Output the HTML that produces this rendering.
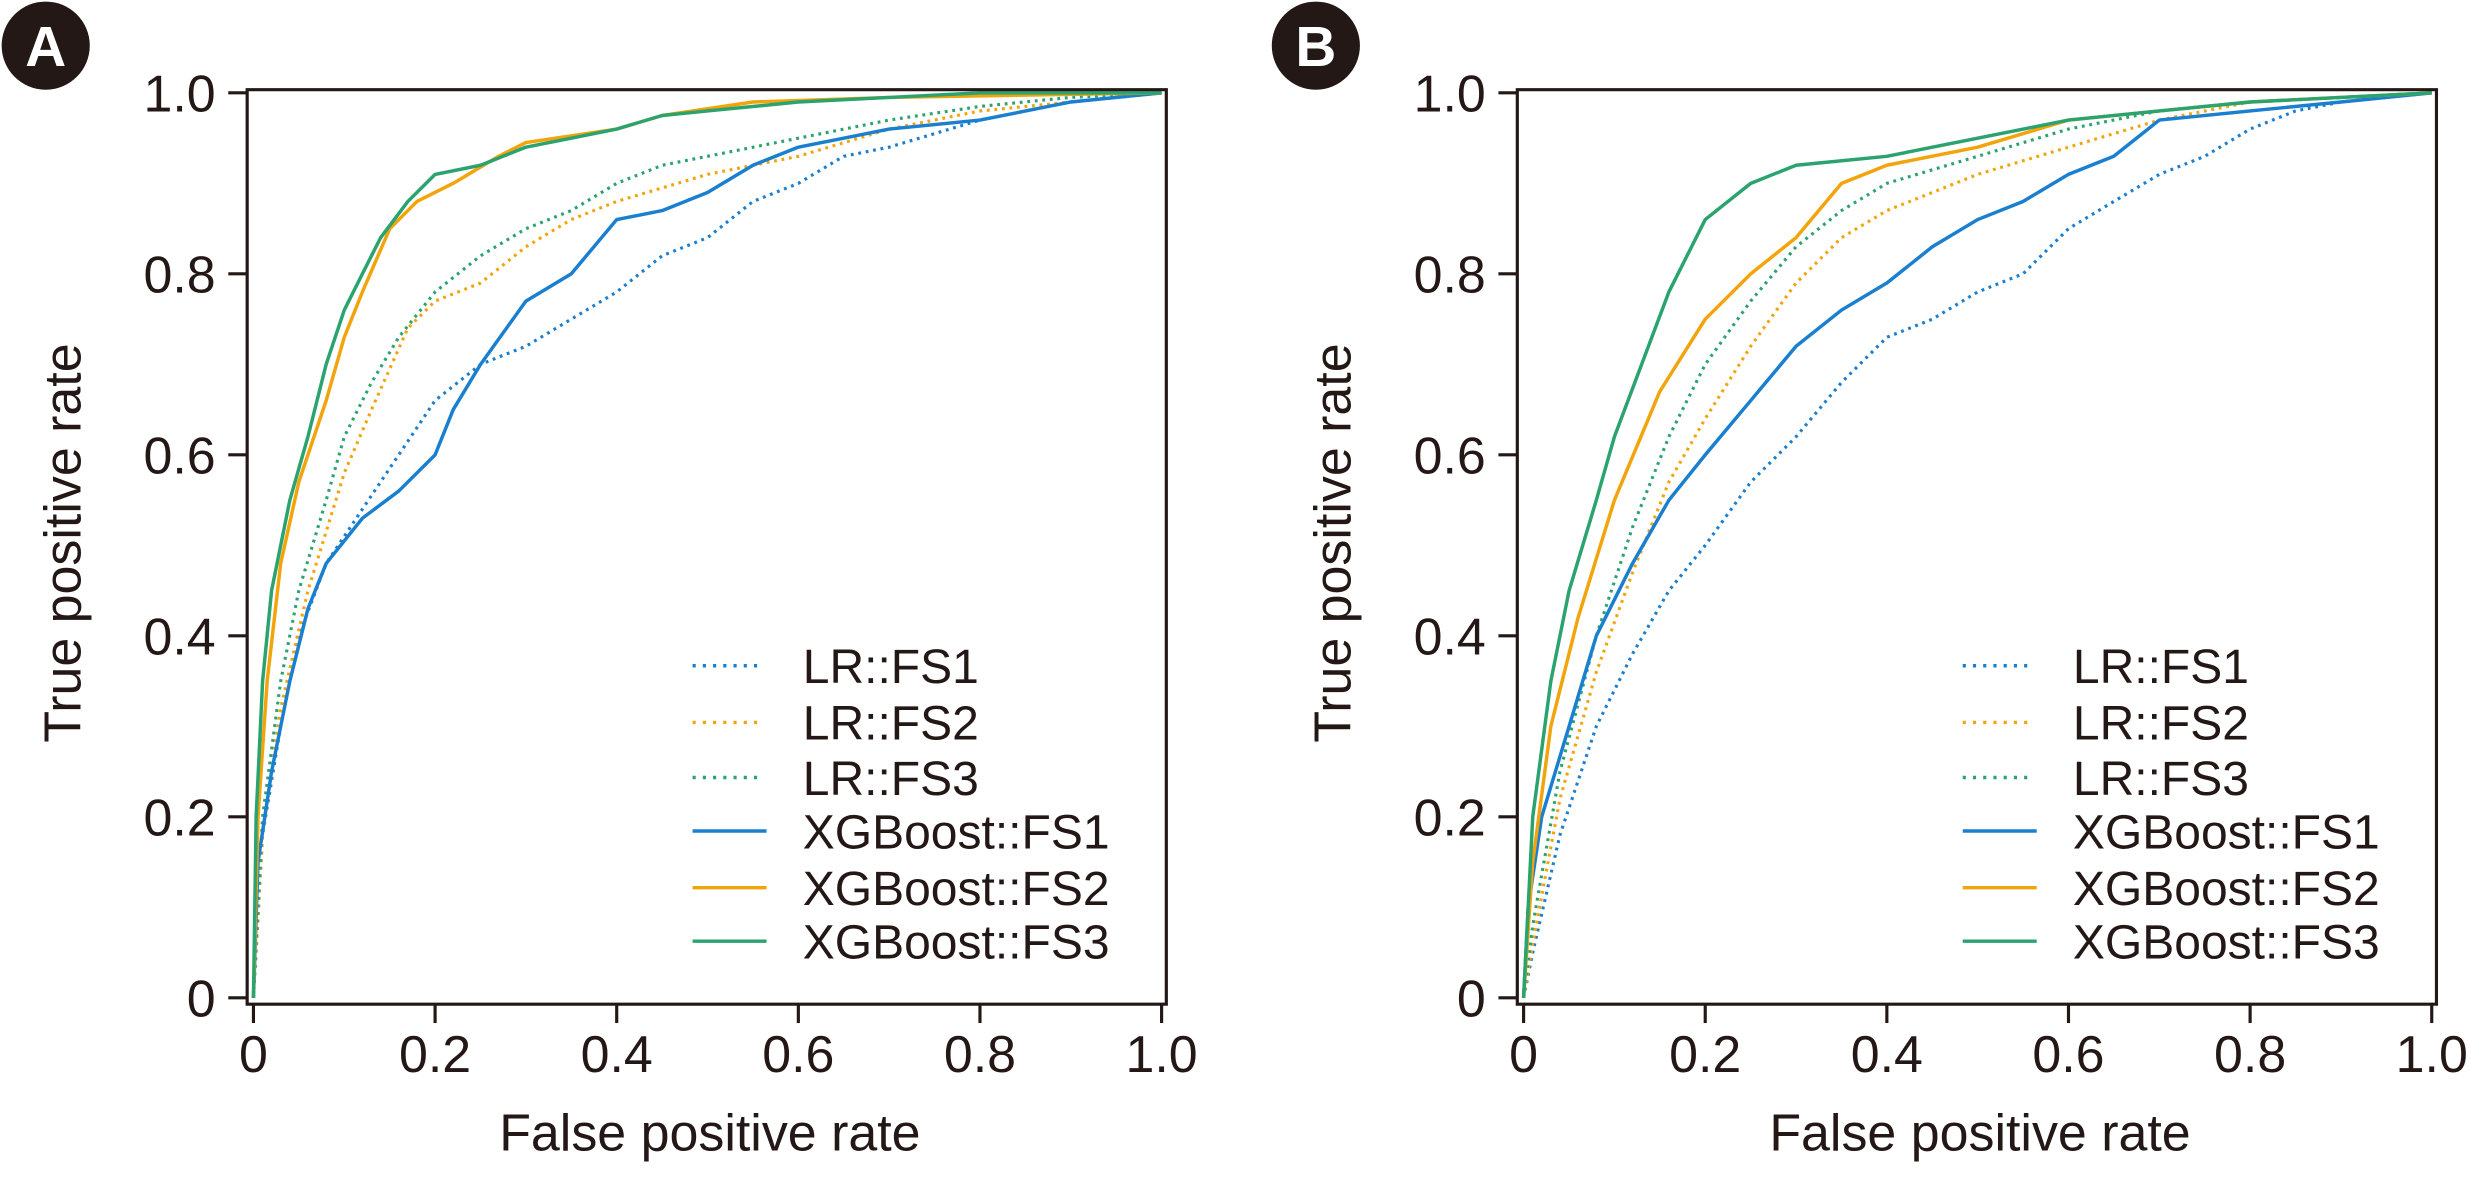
<!DOCTYPE html>
<html><head><meta charset="utf-8"><style>
html,body{margin:0;padding:0;background:#fff}
svg{display:block}
text{font-family:"Liberation Sans",Arial,sans-serif;fill:#231815}
</style></head><body>
<svg id="s" width="2468" height="1182" viewBox="0 0 1568 751" xmlns="http://www.w3.org/2000/svg">
<g id="g"></g>
<circle cx="29" cy="29" r="28" fill="#231815"/><text x="29" y="42" font-size="36" font-weight="bold" text-anchor="middle" style="fill:#fff">A</text>
<circle cx="836" cy="29" r="28" fill="#231815"/><text x="836" y="42" font-size="36" font-weight="bold" text-anchor="middle" style="fill:#fff">B</text>
</svg>
<script>
var NS="http://www.w3.org/2000/svg",g=document.getElementById('g');
function el(t,a,txt){var e=document.createElementNS(NS,t);for(var k in a)e.setAttribute(k,a[k]);if(txt!=null)e.textContent=txt;g.appendChild(e);return e;}
var C={b:"#1a7fcf",o:"#f2a40c",g:"#2ba36f"};
var A={
lr1:[[0,0],[.01,.18],[.03,.3],[.05,.4],[.08,.48],[.12,.54],[.16,.6],[.2,.66],[.25,.7],[.3,.72],[.35,.75],[.4,.78],[.45,.82],[.5,.84],[.55,.88],[.6,.9],[.65,.93],[.7,.94],[.8,.97],[.9,.99],[1,1]],
lr2:[[0,0],[.01,.18],[.03,.32],[.06,.45],[.1,.58],[.13,.65],[.17,.74],[.2,.77],[.25,.79],[.3,.83],[.35,.86],[.4,.88],[.5,.91],[.6,.93],[.7,.96],[.8,.98],[.9,.99],[1,1]],
lr3:[[0,0],[.01,.2],[.03,.35],[.05,.45],[.08,.55],[.1,.62],[.13,.68],[.16,.73],[.2,.78],[.25,.82],[.3,.85],[.35,.87],[.4,.9],[.45,.92],[.5,.93],[.6,.95],[.7,.97],[.8,.985],[.9,.995],[1,1]],
x1:[[0,0],[.005,.15],[.02,.25],[.04,.35],[.06,.43],[.08,.48],[.12,.53],[.16,.56],[.2,.6],[.22,.65],[.25,.7],[.3,.77],[.35,.8],[.4,.86],[.45,.87],[.5,.89],[.55,.92],[.6,.94],[.65,.95],[.7,.96],[.8,.97],[.9,.99],[1,1]],
x2:[[0,0],[.005,.2],[.015,.35],[.03,.48],[.05,.57],[.08,.66],[.1,.73],[.12,.78],[.15,.85],[.18,.88],[.22,.9],[.27,.93],[.3,.945],[.4,.96],[.45,.975],[.55,.99],[.7,.995],[1,1]],
x3:[[0,0],[.003,.2],[.01,.35],[.02,.45],[.04,.55],[.06,.62],[.08,.7],[.1,.76],[.12,.8],[.14,.84],[.17,.88],[.2,.91],[.25,.92],[.3,.94],[.35,.95],[.4,.96],[.45,.975],[.5,.98],[.6,.99],[.7,.995],[.8,1],[1,1]]};
var B={
lr1:[[0,0],[.01,.05],[.04,.18],[.08,.3],[.12,.38],[.16,.45],[.2,.5],[.25,.57],[.3,.62],[.35,.68],[.4,.73],[.45,.75],[.5,.78],[.55,.8],[.6,.85],[.65,.88],[.7,.91],[.75,.93],[.8,.96],[.85,.98],[.9,.99],[1,1]],
lr2:[[0,0],[.01,.06],[.04,.22],[.08,.36],[.12,.47],[.16,.57],[.2,.64],[.25,.72],[.3,.79],[.35,.84],[.4,.87],[.5,.91],[.6,.94],[.7,.97],[.8,.99],[1,1]],
lr3:[[0,0],[.01,.08],[.04,.25],[.08,.4],[.12,.52],[.16,.62],[.2,.7],[.25,.77],[.3,.83],[.35,.87],[.4,.9],[.5,.93],[.6,.96],[.7,.98],[.8,.99],[1,1]],
x1:[[0,0],[.005,.1],[.02,.2],[.05,.3],[.08,.4],[.12,.48],[.16,.55],[.2,.6],[.25,.66],[.3,.72],[.35,.76],[.4,.79],[.45,.83],[.5,.86],[.55,.88],[.6,.91],[.65,.93],[.7,.97],[.8,.98],[.9,.99],[1,1]],
x2:[[0,0],[.01,.15],[.03,.3],[.06,.42],[.1,.55],[.15,.67],[.2,.75],[.25,.8],[.3,.84],[.35,.9],[.4,.92],[.5,.94],[.6,.97],[.7,.98],[.8,.99],[1,1]],
x3:[[0,0],[.005,.1],[.01,.2],[.03,.35],[.05,.45],[.08,.55],[.1,.62],[.13,.7],[.16,.78],[.2,.86],[.25,.9],[.3,.92],[.4,.93],[.5,.95],[.6,.97],[.7,.98],[.8,.99],[1,1]]};
var Y0=634,H=575,W=577;
function panel(x0,D){
 var L=x0-4,R=x0+580,T=57,Bt=638;
 var order=[["lr1",C.b,1],["lr2",C.o,1],["lr3",C.g,1],["x1",C.b,0],["x2",C.o,0],["x3",C.g,0]];
 order.forEach(function(o){
  var p=D[o[0]],d="";
  for(var i=0;i<p.length;i++){
   var X=x0+p[i][0]*W,Yv=Y0-p[i][1]*H;
   d+=(i?"L":"M")+X.toFixed(1)+" "+Yv.toFixed(1);
  }
  var a={d:d,fill:"none",stroke:o[1],"stroke-width":o[2]?2:2.2,"stroke-linejoin":"round"};
  if(o[2])a["stroke-dasharray"]="1.8 3";
  el("path",a);
 });
 el("path",{d:"M"+L+" "+Bt+"V"+T+"H"+R+"V"+Bt+"Z",fill:"none",stroke:"#231815","stroke-width":2});
 var lab=["0","0.2","0.4","0.6","0.8","1.0"];
 for(var i=0;i<6;i++){
  var yy=Y0-i*0.2*H;
  el("line",{x1:L-12,x2:L,y1:yy,y2:yy,stroke:"#231815","stroke-width":2});
  el("text",{x:L-20,y:yy+12,"font-size":33,"text-anchor":"end"},lab[i]);
  var xx=x0+i*0.2*W;
  el("line",{x1:xx,x2:xx,y1:Bt,y2:Bt+12,stroke:"#231815","stroke-width":2});
  el("text",{x:xx,y:Bt+43,"font-size":33,"text-anchor":"middle"},lab[i]);
 }
 el("text",{x:x0+290,y:731,"font-size":33,"text-anchor":"middle"},"False positive rate");
 el("text",{x:0,y:0,"font-size":33,"text-anchor":"middle",transform:"translate("+(x0-110)+",345) rotate(-90)"},"True positive rate");
 var names=["LR::FS1","LR::FS2","LR::FS3","XGBoost::FS1","XGBoost::FS2","XGBoost::FS3"];
 var ys=[423,459,494,528,564,598];
 for(var k=0;k<6;k++){
  var o=order[k];
  var a={x1:x0+279,x2:x0+326,y1:ys[k],y2:ys[k],stroke:o[1],"stroke-width":2.2};
  if(o[2]){a["stroke-dasharray"]="2 4.5";a.x2=x0+322;}
  el("line",a);
  el("text",{x:x0+349,y:ys[k]+11,"font-size":30.5},names[k]);
 }
}
panel(161,A);panel(968,B);
</script>
</body></html>
